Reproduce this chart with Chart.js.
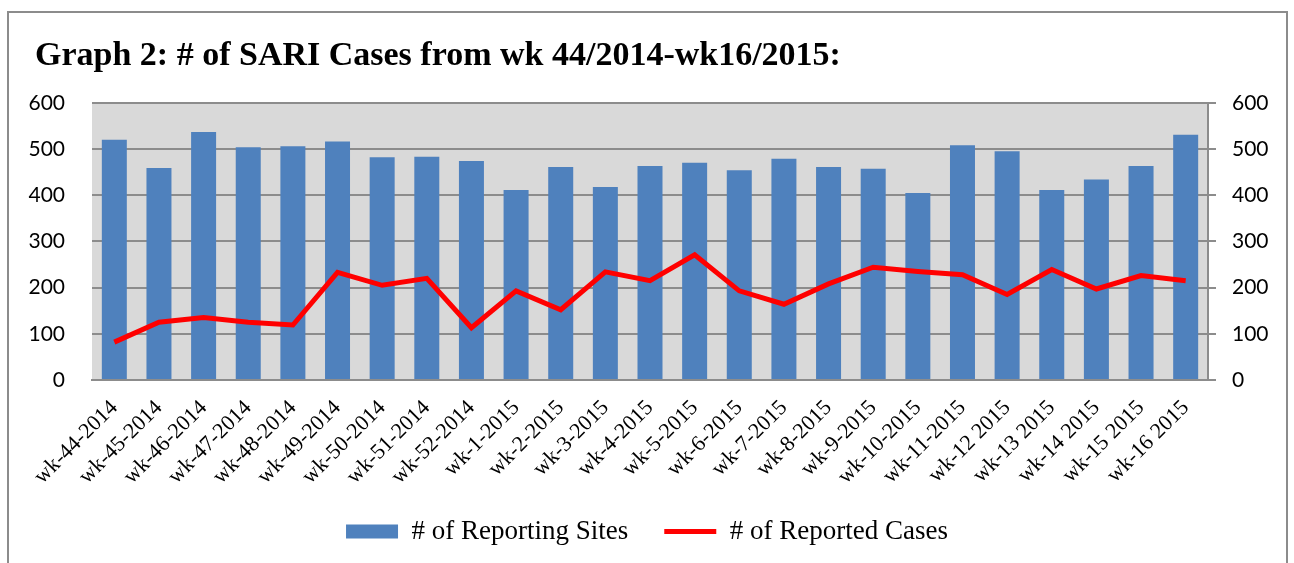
<!DOCTYPE html>
<html><head><meta charset="utf-8">
<script src="https://cdn.jsdelivr.net/npm/chart.js@4.4.0/dist/chart.umd.min.js"></script>
<style>
html,body{margin:0;padding:0;background:#fff;overflow:hidden;}
#wrap{position:relative;width:1294px;height:563px;}
#frame{position:absolute;left:7px;top:11px;width:1281px;height:620px;border:2px solid #8c8c8c;box-sizing:border-box;}
canvas{position:absolute;left:0;top:0;}
</style></head><body>
<div id="wrap"><div id="frame"></div><canvas id="c" width="1294" height="563"></canvas></div>
<script>
const titleText = 'Graph 2: # of SARI Cases from wk 44/2014-wk16/2015:';
const categories = ['wk-44-2014','wk-45-2014','wk-46-2014','wk-47-2014','wk-48-2014','wk-49-2014','wk-50-2014','wk-51-2014','wk-52-2014','wk-1-2015','wk-2-2015','wk-3-2015','wk-4-2015','wk-5-2015','wk-6-2015','wk-7-2015','wk-8-2015','wk-9-2015','wk-10-2015','wk-11-2015','wk-12 2015','wk-13 2015','wk-14 2015','wk-15 2015','wk-16 2015'];
const reportingSites = [520,459,537,504,506,516,482,483,474,411,461,418,463,470,454,479,461,457,405,508,495,411,434,463,531];
const reportedCases = [82,125,135,125,119,233,205,220,113,193,152,234,215,271,193,164,208,244,235,228,185,239,197,226,215];
const yTicks = [0,100,200,300,400,500,600];

const plotBg = {
  id:'plotBg',
  afterLayout(chart){ if (chart.titleBlock) chart.titleBlock.left = 35; },
  beforeDraw(chart){
    const {ctx, chartArea:a} = chart;
    ctx.save(); ctx.fillStyle='#d9d9d9';
    ctx.fillRect(a.left, a.top, a.right-a.left, a.bottom-a.top);
    ctx.restore();
  }
};
const setTicks = s => { s.ticks = yTicks.map(v=>({value:v})); };
const gridGray = '#8c8c8c';

new Chart(document.getElementById('c'), {
  data:{
    labels: categories,
    datasets:[
      {type:'bar', label:'# of Reporting Sites', data:reportingSites, backgroundColor:'#4f81bd', borderWidth:0,
       yAxisID:'y', order:1, categoryPercentage:1, barPercentage:0.56, pointStyle:'rect'},
      {type:'line', label:'# of Reported Cases', data:reportedCases, borderColor:'#ff0000', backgroundColor:'#ff0000',
       borderWidth:5, pointRadius:0, tension:0, yAxisID:'y1', order:0, pointStyle:'line'}
    ]
  },
  options:{
    responsive:false, animation:false, devicePixelRatio:1,
    layout:{padding:{left:0, right:0, top:0, bottom:8}},
    plugins:{
      tooltip:{enabled:false},
      title:{display:true, text:titleText, align:'start', color:'#000',
        font:{family:'Liberation Serif', weight:'bold', size:34}, padding:{top:36, bottom:26}},
      legend:{position:'bottom',
        labels:{usePointStyle:true, pointStyleWidth:52, boxHeight:14, color:'#000', padding:36,
          font:{family:'Liberation Serif', size:27},
          sort:(a,b)=>a.datasetIndex-b.datasetIndex}}
    },
    scales:{
      x:{
        offset:true,
        grid:{drawOnChartArea:false, drawTicks:false, offset:true},
        border:{display:true, color:gridGray, width:2},
        ticks:{minRotation:45, maxRotation:45, autoSkip:false, color:'#000', padding:15,
          font:{family:'Liberation Serif', size:22}},
        afterFit:s=>{s.height=102;}
      },
      y:{
        position:'left', min:0, max:600, afterBuildTicks:setTicks,
        grid:{color:gridGray, lineWidth:2, drawTicks:false},
        border:{display:false},
        ticks:{padding:27, color:'#000', font:{family:'Lato', size:21}},
        afterFit:s=>{s.width=92;}
      },
      y1:{
        position:'right', min:0, max:600, afterBuildTicks:setTicks,
        grid:{drawOnChartArea:false, drawTicks:true, tickLength:8, color:gridGray, lineWidth:2},
        border:{display:true, color:gridGray, width:2},
        ticks:{padding:16, color:'#000', font:{family:'Lato', size:21}},
        afterFit:s=>{s.width=86;}
      }
    }
  },
  plugins:[plotBg]
});
</script>
</body></html>
